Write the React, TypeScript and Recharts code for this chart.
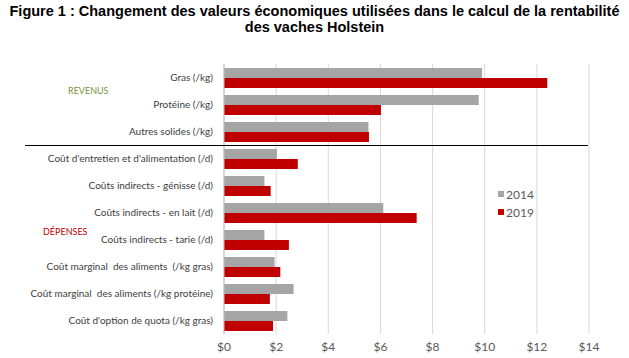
import React from "react";
import {
  BarChart,
  Bar,
  XAxis,
  YAxis,
  CartesianGrid,
  Legend,
} from "recharts";

const categories = [
  "Gras (/kg)",
  "Protéine (/kg)",
  "Autres solides (/kg)",
  "Coût d'entretien et d'alimentation (/d)",
  "Coûts indirects - génisse (/d)",
  "Coûts indirects - en lait (/d)",
  "Coûts indirects - tarie (/d)",
  "Coût marginal  des aliments  (/kg gras)",
  "Coût marginal  des aliments (/kg protéine)",
  "Coût d'option de quota (/kg gras)",
];
const values2014 = [9.9, 9.77, 5.54, 2.03, 1.55, 6.11, 1.55, 1.94, 2.67, 2.43];
const values2019 = [12.4, 6.02, 5.56, 2.83, 1.79, 7.39, 2.49, 2.16, 1.76, 1.88];
const xTicks = [0, 2, 4, 6, 8, 10, 12, 14];

const data = categories.map((name, i) => ({
  name,
  y2014: values2014[i],
  y2019: values2019[i],
}));

const W = 629;
const H = 358;
const TOP = 64;
const BOTTOM_AXIS = 20;
const BOTTOM = 4;
const bandH = (H - TOP - BOTTOM_AXIS - BOTTOM) / categories.length;
const FONT = "Lato, 'Open Sans', sans-serif";

function CategoryTick({ x, y, payload }: any) {
  return (
    <text
      x={x - 3}
      y={y}
      dy="0.35em"
      textAnchor="end"
      fill="#404040"
      fontSize={10}
      fontFamily={FONT}
      style={{ whiteSpace: "pre" }}
    >
      {payload.value}
    </text>
  );
}

function LegendBox() {
  const items = [
    { label: "2014", color: "#a5a5a5" },
    { label: "2019", color: "#c00000" },
  ];
  return (
    <div style={{ fontFamily: FONT, fontSize: 12, color: "#595959" }}>
      {items.map((it) => (
        <div key={it.label} style={{ display: "flex", alignItems: "center", height: 18 }}>
          <span style={{ width: 6, height: 6, background: it.color, marginRight: 2 }} />
          <span>{it.label}</span>
        </div>
      ))}
    </div>
  );
}

export default function App() {
  return (
    <div
      style={{
        position: "absolute",
        left: 0,
        top: 0,
        width: W,
        height: H,
        background: "#fff",
        fontFamily: FONT,
      }}
    >
      <div
        style={{
          position: "absolute",
          left: 0,
          top: 3,
          width: W,
          textAlign: "center",
          fontFamily: "'Liberation Sans', Arial, sans-serif",
          fontWeight: "bold",
          fontSize: 14.5,
          lineHeight: "16px",
          color: "#000",
          whiteSpace: "nowrap",
        }}
      >
        Figure 1 : Changement des valeurs économiques utilisées dans le calcul de la rentabilité
        <br />
        des vaches Holstein
      </div>

      <BarChart
        width={W}
        height={H}
        data={data}
        layout="vertical"
        margin={{ top: TOP, right: 40, left: 0, bottom: BOTTOM }}
        barSize={10}
        barGap={0}
      >
        <CartesianGrid horizontal={false} stroke="#d9d9d9" />
        <XAxis
          type="number"
          domain={[0, 14]}
          ticks={xTicks}
          tickFormatter={(v) => `$${v}`}
          axisLine={false}
          tickLine={false}
          height={BOTTOM_AXIS}
          tick={{ fill: "#595959", fontSize: 12, fontFamily: FONT }}
        />
        <YAxis
          type="category"
          dataKey="name"
          width={224}
          tickLine={false}
          axisLine={{ stroke: "#bfbfbf" }}
          interval={0}
          tick={<CategoryTick />}
        />
        <Legend
          layout="horizontal"
          verticalAlign="middle"
          align="center"
          wrapperStyle={{ left: 498, top: 185, width: 60 }}
          content={() => <LegendBox />}
        />
        <Bar dataKey="y2014" fill="#a5a5a5" isAnimationActive={false} />
        <Bar dataKey="y2019" fill="#c00000" isAnimationActive={false} />
      </BarChart>

      <div
        style={{
          position: "absolute",
          left: 25,
          top: TOP + 3 * bandH,
          width: 563,
          height: 1,
          background: "#000",
        }}
      />
      <div
        style={{
          position: "absolute",
          left: 68,
          top: 85,
          fontSize: 9,
          color: "#76933c",
          fontFamily: FONT,
        }}
      >
        REVENUS
      </div>
      <div
        style={{
          position: "absolute",
          left: 43,
          top: 226,
          fontSize: 9,
          color: "#c00000",
          fontFamily: FONT,
        }}
      >
        DÉPENSES
      </div>
    </div>
  );
}
